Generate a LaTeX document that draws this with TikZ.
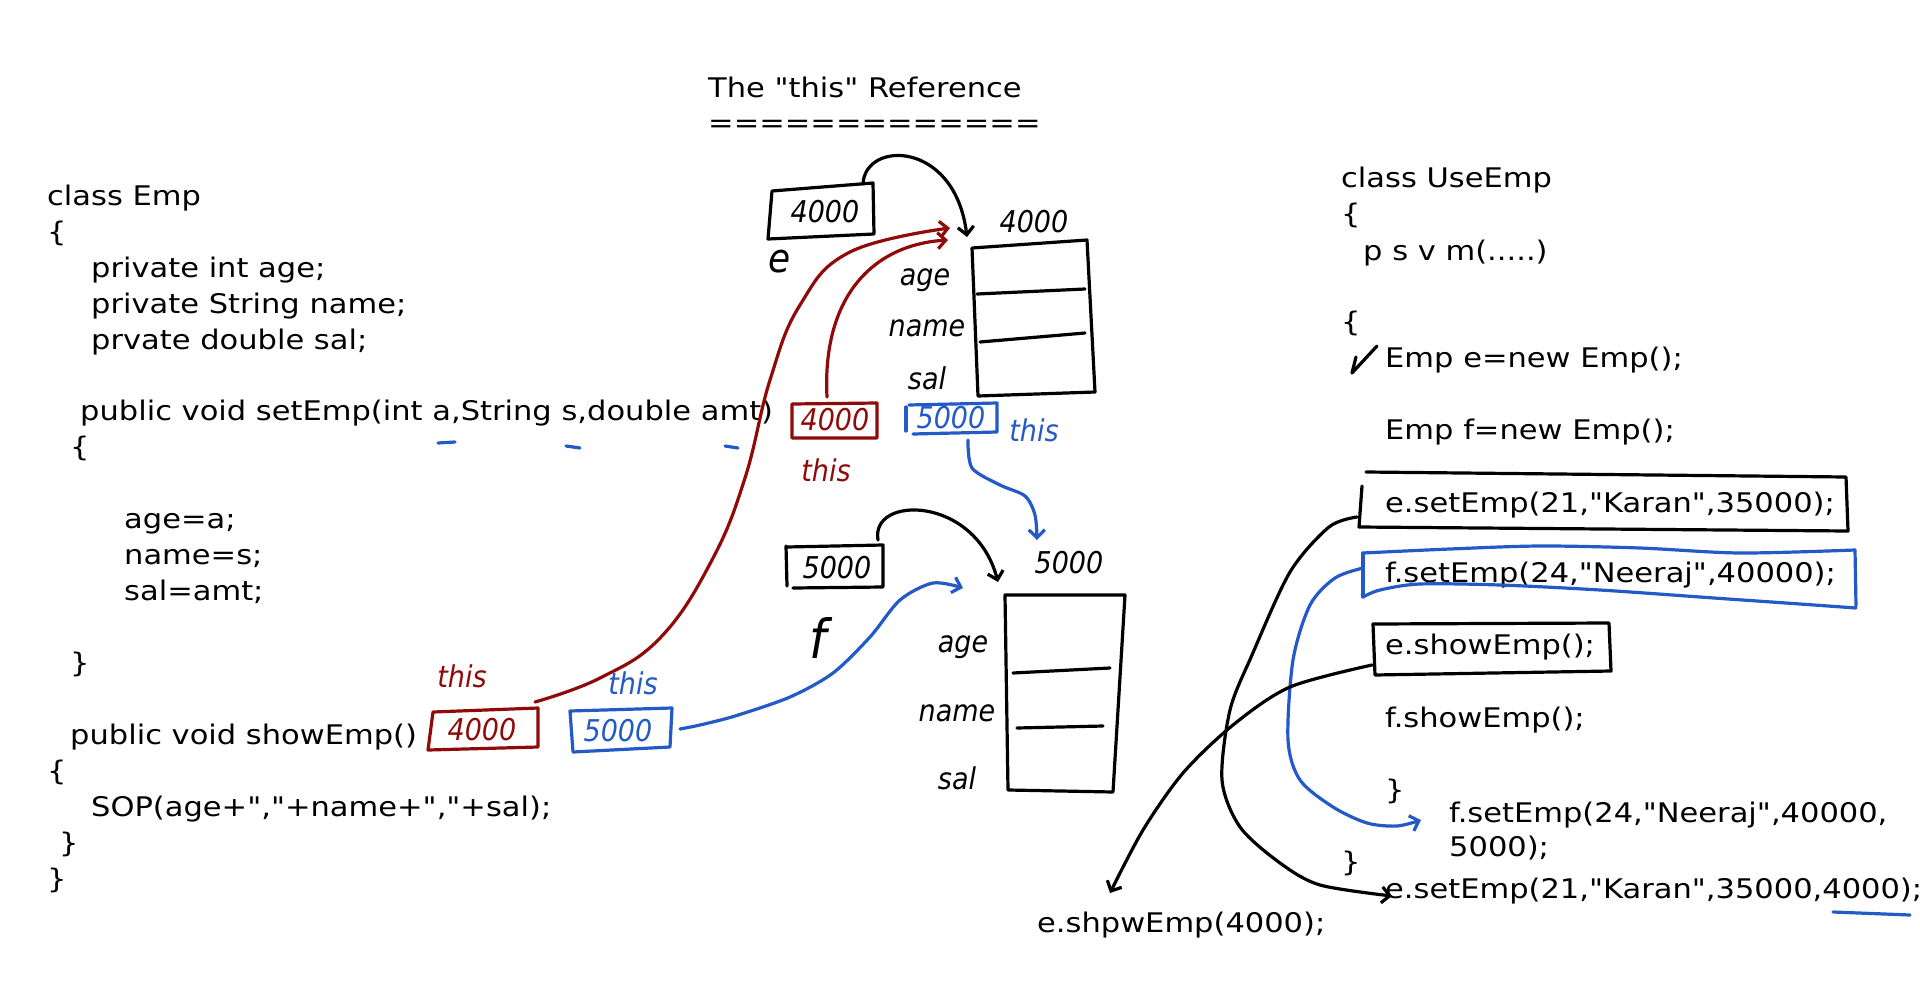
\documentclass[tikz,border=0pt]{standalone}
\usepackage{fontspec}
\setmainfont{DejaVu Sans}
\newfontfamily\codefont{DejaVu Sans}[FakeStretch=1.13]
\newfontfamily\handfont{DejaVu Sans}[FakeStretch=0.9]
\usetikzlibrary{arrows.meta}
\definecolor{inkred}{RGB}{145,10,10}
\definecolor{inkblue}{RGB}{35,90,200}
\begin{document}
\begin{tikzpicture}[x=1pt,y=-1pt,
  code/.style={font=\codefont\fontsize{27}{32}\selectfont, anchor=base west, inner sep=0pt},
  hand/.style={font=\handfont\itshape\fontsize{30}{34}\selectfont, inner sep=0pt},
  handbig/.style={font=\handfont\itshape\fontsize{40}{44}\selectfont, inner sep=0pt},
  ink/.style={line width=3.2pt, line cap=round, line join=round},
  redink/.style={ink, draw=inkred},
  blueink/.style={ink, draw=inkblue},
  tip/.style={-{Straight Barb[length=8pt,width=16pt]}}
]
\useasboundingbox (0,0) rectangle (1920,1001);
\fill[white] (0,0) rectangle (1920,1001);

% title
\node[code] (title) at (708,97) {The "this" Reference};
\node[code] (rule) at (708,132) {=============};

% left code
\node[code] (l1) at (47,205) {class Emp};
\node[code] (l2) at (47,241) {\{};
\node[code] (l3) at (91,277) {private int age;};
\node[code] (l4) at (91,313) {private String name;};
\node[code] (l5) at (91,349) {prvate double sal;};
\node[code] (l6) at (80,420) {public void setEmp(int a,String s,double amt)};
\node[code] (l7) at (70,456) {\{};
\node[code] (l8) at (124,528) {age=a;};
\node[code] (l9) at (124,564) {name=s;};
\node[code] (l10) at (124,600) {sal=amt;};
\node[code] (l11) at (70,672) {\}};
\node[code] (l12) at (70,744) {public void showEmp()};
\node[code] (l13) at (47,780) {\{};
\node[code] (l14) at (91,816) {SOP(age+","+name+","+sal);};
\node[code] (l15) at (59,852) {\}};
\node[code] (l16) at (47,888) {\}};

% right code
\node[code] (r1) at (1341,187) {class UseEmp};
\node[code] (r2) at (1341,223) {\{};
\node[code] (r3) at (1363,260) {p s v m(.....)};
\node[code] (r4) at (1341,331) {\{};
\node[code] (r5) at (1385,367) {Emp e=new Emp();};
\node[code] (r6) at (1385,439) {Emp f=new Emp();};
\node[code] (r7) at (1385,512) {e.setEmp(21,"Karan",35000);};
\node[code] (r8) at (1385,582) {f.setEmp(24,"Neeraj",40000);};
\node[code] (r9) at (1385,654) {e.showEmp();};
\node[code] (r10) at (1385,727) {f.showEmp();};
\node[code] (r11) at (1385,799) {\}};
\node[code] (r12) at (1449,822) {f.setEmp(24,"Neeraj",40000,};
\node[code] (r13) at (1449,856) {5000);};
\node[code] (r14) at (1341,871) {\}};
\node[code] (r15) at (1385,898) {e.setEmp(21,"Karan",35000,4000);};
\node[code] (r16) at (1037,932) {e.shpwEmp(4000);};

% checkmark and underline
\draw[ink] (1356,357) -- (1352,373) -- (1377,346);
\draw[blueink] (1833,912) -- (1910,915);

% blue dashes under parameters
\draw[blueink] (438,443) -- (455,442);
\draw[blueink] (566,446) -- (580,448);
\draw[blueink] (725,446) -- (738,448);

% ---- reference e and object 4000
\draw[ink] (772,191) -- (873,183) -- (874,234) -- (768,239) -- cycle;
\node[hand] (ev) at (825,212) {4000};
\node[handbig] (e) at (780,262) {e};
\node[hand] (o1addr) at (1034,222) {4000};
\draw[ink] (972,248) -- (1087,240) -- (1095,392) -- (978,396) -- cycle;
\draw[ink] (977,294) -- (1085,289);
\draw[ink] (980,342) -- (1085,333);
\node[hand] (age1) at (925,280) {age};
\node[hand] (name1) at (927,328) {name};
\node[hand] (sal1) at (927,378) {sal};
\coordinate (eTop) at (863,184);
\coordinate (o1in) at (967,237);
\draw[ink,tip] (eTop) .. controls (865,140) and (955,140) .. (o1in);

% this boxes near object 1
\draw[redink] (792,404) -- (877,403) -- (877,438) -- (792,438) -- cycle;
\node[hand,text=inkred] (rb1) at (835,420) {4000};
\node[hand,text=inkred] (this1) at (826,470) {this};
\draw[blueink] (906,407) -- (906,431);
\draw[blueink] (909,405) -- (997,403) -- (997,432) -- (913,434);
\node[hand,text=inkblue] (bb1) at (951,418) {5000};
\node[hand,text=inkblue] (this2) at (1034,430) {this};

% ---- reference f and object 5000
\draw[ink] (787,547) -- (883,545) -- (883,587) -- (793,588);
\draw[ink] (786,546) -- (787,586);
\node[hand] (fv) at (837,568) {5000};
\node[handbig,font=\handfont\itshape\fontsize{54}{56}\selectfont] (f) at (818,638) {f};
\node[hand] (o2addr) at (1069,563) {5000};
\draw[ink] (1005,595) -- (1125,595) -- (1113,792) -- (1008,790) -- cycle;
\draw[ink] (1013,673) -- (1110,668);
\draw[ink] (1017,728) -- (1103,726);
\node[hand] (age2) at (963,647) {age};
\node[hand] (name2) at (957,713) {name};
\node[hand] (sal2) at (957,778) {sal};
\coordinate (fTop) at (878,540);
\coordinate (o2in) at (998,582);
\draw[ink,tip] (fTop) .. controls (870,495) and (975,495) .. (o2in);

% this boxes at showEmp
\draw[redink] (433,712) -- (538,708) -- (538,747) -- (428,750) -- cycle;
\node[hand,text=inkred] (rb2) at (482,730) {4000};
\node[hand,text=inkred] (this3) at (462,676) {this};
\draw[blueink] (570,711) -- (672,708) -- (670,747) -- (573,752) -- cycle;
\node[hand,text=inkblue] (bb2) at (618,731) {5000};
\node[hand,text=inkblue] (this4) at (633,683) {this};

% red arrows
\coordinate (redA) at (827,397);
\coordinate (redAend) at (948,240);
\draw[redink,tip] (redA) .. controls (822,300) and (870,245) .. (redAend);
\coordinate (redB) at (535,702);
\coordinate (redBend) at (950,228);
\draw[redink,tip] plot[smooth,tension=0.7] coordinates {(redB) (600,678) (661,637) (712,560) (745,478) (770,380) (800,305) (850,252) (redBend)};

% blue arrows
\coordinate (blueA) at (968,440);
\coordinate (blueAend) at (1037,540);
\draw[blueink,tip] plot[smooth] coordinates {(blueA) (972,468) (1000,485) (1025,496) (1035,515) (blueAend)};
\coordinate (blueB) at (680,729);
\coordinate (blueBend) at (963,588);
\draw[blueink,tip] plot[smooth] coordinates {(blueB) (700,725) (735,716) (790,697) (833,673) (870,637) (900,600) (933,583) (blueBend)};

% ---- right boxes
\draw[ink] (1366,472) -- (1846,477) -- (1848,531) -- (1359,527) -- (1362,486);
\draw[blueink] plot[smooth] coordinates {(1363,553) (1450,549) (1540,546) (1640,548) (1740,553) (1855,550)};
\draw[blueink] (1855,550) -- (1856,606);
\draw[blueink] plot[smooth] coordinates {(1856,608) (1800,604) (1714,598) (1600,590) (1500,585) (1420,584) (1380,590) (1363,597)};
\draw[blueink] (1363,597) -- (1363,553);
\draw[ink] (1373,624) -- (1609,623) -- (1611,671) -- (1375,675) -- cycle;

% right connectors
\coordinate (esL) at (1357,517);
\coordinate (esEnd) at (1392,896);
\draw[ink,tip] plot[smooth] coordinates {(esL) (1329,527) (1290,572) (1252,655) (1230,710) (1222,780) (1240,827) (1280,863) (1320,885) (esEnd)};
\coordinate (fsL) at (1363,568);
\coordinate (fsEnd) at (1421,820);
\draw[blueink,tip] plot[smooth] coordinates {(fsL) (1335,578) (1310,605) (1293,660) (1288,740) (1300,780) (1333,807) (1367,823) (1397,826) (fsEnd)};
\coordinate (shL) at (1372,665);
\coordinate (shEnd) at (1110,893);
\draw[ink,tip] plot[smooth] coordinates {(shL) (1290,687) (1233,725) (1183,773) (1143,830) (shEnd)};
\end{tikzpicture}
\end{document}
